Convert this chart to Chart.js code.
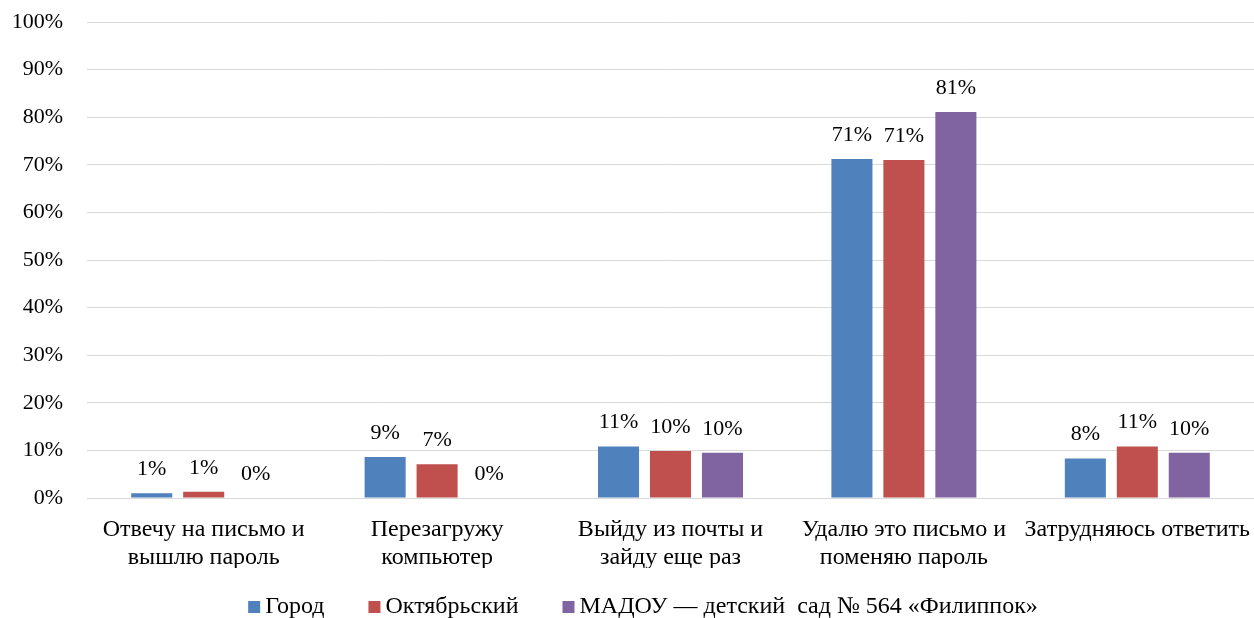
<!DOCTYPE html>
<html>
<head>
<meta charset="utf-8">
<script src="https://cdn.jsdelivr.net/npm/chart.js@4/dist/chart.umd.min.js"></script>
<style>
  html, body { margin: 0; padding: 0; background: #fff; }
  #wrap { width: 1254px; height: 618px; }
</style>
</head>
<body>
<div id="wrap"><canvas id="myChart" width="1254" height="618"></canvas></div>
<script>
// categories and series
const categories = [
  ["Отвечу на письмо и", "вышлю пароль"],
  ["Перезагружу", "компьютер"],
  ["Выйду из почты и", "зайду еще раз"],
  ["Удалю это письмо и", "поменяю пароль"],
  "Затрудняюсь ответить"
];
const gorod = [1.0, 8.6, 10.8, 71.2, 8.3];
const oktyabrsky = [1.3, 7.1, 9.9, 71.0, 10.8];
const madou = [0, 0, 9.5, 81.1, 9.5];
const seriesNames = ["Город", "Октябрьский", "МАДОУ — детский  сад № 564 «Филиппок»"];
const seriesColors = ["#4f81bd", "#c0504d", "#8064a2"];

const fontFamily = "'Liberation Serif', 'Times New Roman', serif";

//draws the percent labels above each bar
const valueLabels = {
  id: "valueLabels",
  afterDatasetsDraw(chart) {
    const ctx = chart.ctx;
    ctx.save();
    ctx.font = "22px " + fontFamily;
    ctx.fillStyle = "#000";
    ctx.textAlign = "center";
    ctx.textBaseline = "middle";
    chart.data.datasets.forEach(function (ds, i) {
      const meta = chart.getDatasetMeta(i);
      meta.data.forEach(function (bar, j) {
        ctx.fillText(Math.round(ds.data[j]) + "%", bar.x, bar.y - 24);
      });
    });
    ctx.restore();
  }
};

//legend drawn by hand so the spacing looks like the excel one
const bottomLegend = {
  id: "bottomLegend",
  afterDraw(chart) {
    const ctx = chart.ctx;
    ctx.save();
    ctx.font = "24px " + fontFamily;
    ctx.textBaseline = "middle";
    ctx.textAlign = "left";
    var box = 12, gap = 5, spacing = 44;
    var total = 0;
    chart.data.datasets.forEach(function (ds, i) {
      total += box + gap + ctx.measureText(ds.label).width;
      if (i > 0) total += spacing;
    });
    var x = chart.width / 2 + 16 - total / 2;
    var y = 607;
    chart.data.datasets.forEach(function (ds) {
      ctx.fillStyle = ds.backgroundColor;
      ctx.fillRect(x, y - box / 2, box, box);
      x += box + gap;
      ctx.fillStyle = "#000";
      ctx.fillText(ds.label, x, y);
      x += ctx.measureText(ds.label).width + spacing;
    });
    ctx.restore();
  }
};

new Chart("myChart", {
  type: "bar",
  data: {
    labels: categories,
    datasets: [
      { label: seriesNames[0], data: gorod, backgroundColor: seriesColors[0] },
      { label: seriesNames[1], data: oktyabrsky, backgroundColor: seriesColors[1] },
      { label: seriesNames[2], data: madou, backgroundColor: seriesColors[2] }
    ]
  },
  options: {
    responsive: false,
    animation: false,
    categoryPercentage: 0.668,
    barPercentage: 0.79,
    layout: { padding: { top: 22, right: 0, bottom: 50, left: 0 } },
    plugins: {
      legend: { display: false },
      tooltip: { enabled: false }
    },
    scales: {
      x: {
        grid: { display: false },
        border: { color: "#d9d9d9" },
        ticks: {
          font: { family: fontFamily, size: 24 },
          color: "#000",
          padding: 9,
          maxRotation: 0,
          autoSkip: false
        },
        afterFit(scale) { scale.height = 70; scale.paddingLeft = 0; scale.paddingRight = 0; }
      },
      y: {
        min: 0,
        max: 100,
        border: { display: false },
        grid: { color: "#d9d9d9", drawTicks: false },
        ticks: {
          stepSize: 10,
          font: { family: fontFamily, size: 22 },
          color: "#000",
          padding: 24,
          callback: function (v) { return v + "%"; }
        },
        afterFit(scale) { scale.width = 87; scale.paddingTop = 0; scale.paddingBottom = 0; }
      }
    }
  },
  plugins: [valueLabels, bottomLegend]
});
</script>
</body>
</html>
